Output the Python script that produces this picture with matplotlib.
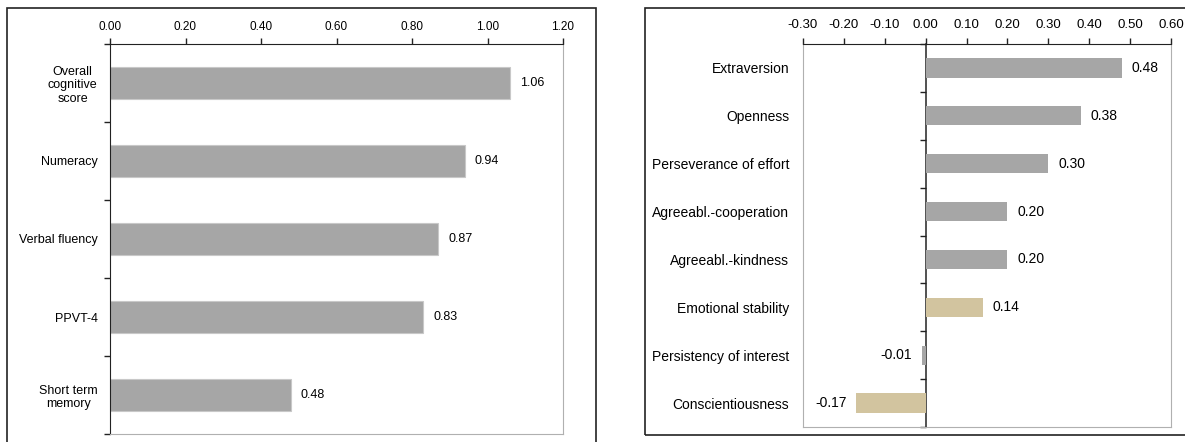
import numpy as np
import matplotlib
matplotlib.use('Agg')
import matplotlib.pyplot as plt
from matplotlib.patches import Rectangle

plt.rcParams['font.family'] = ['Liberation Sans', 'DejaVu Sans']
plt.rcParams['axes.unicode_minus'] = False

# 左图：认知能力
cog_labels = ['Overall\ncognitive\nscore', 'Numeracy', 'Verbal fluency', 'PPVT-4', 'Short term\nmemory']
cog_values = [1.06, 0.94, 0.87, 0.83, 0.48]
cog_ticks = [0.00, 0.20, 0.40, 0.60, 0.80, 1.00, 1.20]

# 右图：非认知能力
nc_labels = ['Extraversion', 'Openness', 'Perseverance of effort', 'Agreeabl.-cooperation',
             'Agreeabl.-kindness', 'Emotional stability', 'Persistency of interest', 'Conscientiousness']
nc_values = [0.48, 0.38, 0.30, 0.20, 0.20, 0.14, -0.01, -0.17]
nc_tan = [False, False, False, False, False, True, False, True]
nc_ticks = [-0.30, -0.20, -0.10, 0.00, 0.10, 0.20, 0.30, 0.40, 0.50, 0.60]

GRAY = '#a6a6a6'
TAN = '#d2c49f'
W, H = 1185, 442

fig = plt.figure(figsize=(W / 100, H / 100), dpi=100)


def px_axes(x0, y0, x1, y1):
    return fig.add_axes([x0 / W, 1 - y1 / H, (x1 - x0) / W, (y1 - y0) / H])


# 外框
fig.add_artist(Rectangle((7 / W, -0.1), (596 - 7) / W, 1.1 - 8 / H, transform=fig.transFigure,
                         fill=False, lw=1.2, ec='#222222'))
fig.add_artist(Rectangle((645 / W, 1 - 435 / H), 0.5, (435 - 8) / H, transform=fig.transFigure,
                         fill=False, lw=1.2, ec='#222222'))


def style_axes(ax, n, ticks, fs_tick, fs_lab, pad_lab, pad_x):
    ax.set_ylim(n - 0.5, -0.5)
    ax.set_xlim(ticks[0], ticks[-1])
    ax.xaxis.tick_top()
    ax.set_xticks(ticks)
    ax.set_xticklabels([f'{t:.2f}' for t in ticks], fontsize=fs_tick)
    ax.tick_params(axis='x', direction='out', length=4, width=1, color='#222222', pad=pad_x)
    ax.set_yticks(np.arange(n))
    ax.set_yticks(np.arange(n + 1) - 0.5, minor=True)
    ax.tick_params(axis='y', which='major', length=0, pad=pad_lab, labelsize=fs_lab)
    ax.tick_params(axis='y', which='minor', length=4, width=1, color='#222222')
    ax.spines['top'].set_color('#222222')
    for s in ['right', 'bottom']:
        ax.spines[s].set_color('#b0b0b0')


# 左图
ax1 = px_axes(110, 44, 563, 434)
ax1.barh(np.arange(len(cog_values)), cog_values, height=0.4, color=GRAY,
         edgecolor='#c8c8c8', linewidth=0.8)
style_axes(ax1, len(cog_values), cog_ticks, 8.5, 9, 9, 4)
ax1.set_yticklabels(cog_labels, multialignment='center')
ax1.spines['left'].set_color('#222222')
ax1.bar_label(ax1.containers[0], fmt='%.2f', padding=7, fontsize=9)

# 右图
ax2 = px_axes(803, 44, 1171, 427)
colors = [TAN if t else GRAY for t in nc_tan]
bars = ax2.barh(np.arange(len(nc_values)), nc_values, height=0.4, color=colors,
                edgecolor='none')
style_axes(ax2, len(nc_values), nc_ticks, 9.5, 10, 10, 5)
ax2.set_yticklabels(nc_labels)
ax2.tick_params(axis='y', which='minor', length=0)
ax2.spines['left'].set_color('#b0b0b0')
ax2.bar_label(bars, fmt='%.2f', padding=7, fontsize=10)

# 零线与类别分隔刻度
zero_loc = (0 - nc_ticks[0]) / (nc_ticks[-1] - nc_ticks[0])
sec = ax2.secondary_yaxis(zero_loc)
sec.set_alignment('left')
sec.set_yticks(np.arange(len(nc_values) + 1) - 0.5)
sec.set_yticklabels([])
sec.tick_params(axis='y', direction='out', length=4, width=1, color='#222222')
sec.spines['left'].set_color('#222222')
sec.spines['left'].set_linewidth(1.1)

fig.savefig('out.png', dpi=100)
